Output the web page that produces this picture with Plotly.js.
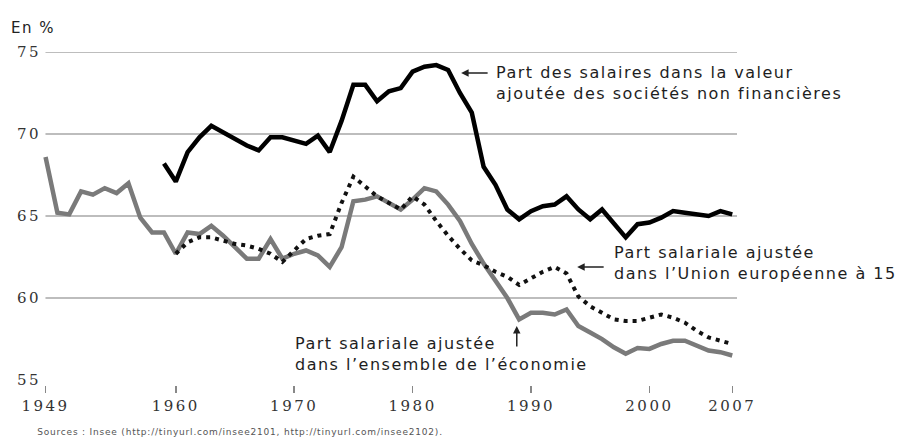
<!DOCTYPE html>
<html>
<head>
<meta charset="utf-8">
<script src="https://cdn.plot.ly/plotly-3.0.1.min.js"></script>
<style>
html,body{margin:0;padding:0;background:#fff;}
#chart{width:907px;height:438px;}
#chart g.annotation text{letter-spacing:1.5px;}
#chart g.annotation[data-index="7"] text{letter-spacing:0.8px;}
#chart .xtick text, #chart .ytick text{letter-spacing:2.5px;}
</style>
</head>
<body>
<div id="chart"></div>
<script>
// Years
var yearsEconomie = [];
for (var y = 1949; y <= 2007; y++) yearsEconomie.push(y);
var yearsUE15 = [];
for (var y2 = 1960; y2 <= 2007; y2++) yearsUE15.push(y2);
var yearsSNF = [];
for (var y3 = 1959; y3 <= 2007; y3++) yearsSNF.push(y3);

// Part salariale ajustée dans l'ensemble de l'économie (1949-2007)
var partEconomie = [
  68.6, 65.2, 65.1, 66.5, 66.3, 66.7, 66.4, 67.0, 64.9, 64.0,
  64.0, 62.7, 64.0, 63.9, 64.4, 63.8, 63.1, 62.4, 62.4, 63.6,
  62.4, 62.7, 62.9, 62.6, 61.9, 63.1, 65.9, 66.0, 66.2, 65.8,
  65.4, 66.0, 66.7, 66.5, 65.7, 64.7, 63.3, 62.1, 61.0, 60.0,
  58.7, 59.1, 59.1, 59.0, 59.3, 58.3, 57.9, 57.5, 57.0, 56.6,
  56.95, 56.9, 57.2, 57.4, 57.4, 57.1, 56.8, 56.7, 56.5
];

// Part salariale ajustée dans l'Union européenne à 15 (1960-2007)
var partUE15 = [
  62.7, 63.4, 63.7, 63.7, 63.5, 63.3, 63.2, 63.0, 62.7, 62.2,
  62.9, 63.6, 63.8, 63.9, 65.8, 67.4, 66.8, 66.2, 65.8, 65.4,
  66.2, 65.7, 64.7, 63.8, 63.0, 62.3, 62.0, 61.6, 61.3, 60.8,
  61.2, 61.6, 61.9, 61.5, 60.1, 59.5, 59.1, 58.7, 58.6, 58.6,
  58.8, 59.0, 58.8, 58.5, 58.0, 57.6, 57.4, 57.2
];

// Part des salaires dans la valeur ajoutée des sociétés non financières (1959-2007)
var partSNF = [
  68.2, 67.1, 68.9, 69.8, 70.5, 70.1, 69.7, 69.3, 69.0, 69.8,
  69.8, 69.6, 69.4, 69.9, 68.9, 70.8, 73.0, 73.0, 72.0, 72.6,
  72.8, 73.8, 74.1, 74.2, 73.9, 72.5, 71.3, 68.0, 66.9, 65.4,
  64.8, 65.3, 65.6, 65.7, 66.2, 65.4, 64.8, 65.4, 64.6, 63.7,
  64.5, 64.6, 64.9, 65.3, 65.2, 65.1, 65.0, 65.3, 65.1
];

var xTickVals = [1949, 1960, 1970, 1980, 1990, 2000, 2007];
var xTickText = ['1949', '1960', '1970', '1980', '1990', '2000', '2007'];
var yTickVals = [55, 60, 65, 70, 75];
var yTickText = ['55', '60', '65', '70', '75'];
var gridValues = [60, 65, 70, 75];

var labelSNF = 'Part des salaires dans la valeur<br>ajoutée des sociétés non financières';
var labelUE15 = 'Part salariale ajustée<br>dans l\u2019Union européenne à 15';
var labelEconomie = 'Part salariale ajustée<br>dans l\u2019ensemble de l\u2019économie';
var unitLabel = 'En %';
var sourceLabel = 'Sources : Insee (http://tinyurl.com/insee2101, http://tinyurl.com/insee2102).';

var traces = [
  {x: yearsEconomie, y: partEconomie, type: 'scatter', mode: 'lines',
   line: {color: '#7a7a7a', width: 4.5}, hoverinfo: 'skip'},
  {x: yearsUE15, y: partUE15, type: 'scatter', mode: 'lines',
   line: {color: '#111', width: 4, dash: '4px,5px'}, hoverinfo: 'skip'},
  {x: yearsSNF, y: partSNF, type: 'scatter', mode: 'lines',
   line: {color: '#000', width: 4.5}, hoverinfo: 'skip'}
];

var shapes = gridValues.map(function (v) {
  return {type: 'line', xref: 'paper', yref: 'y', x0: 0.005, x1: 1, y0: v, y1: v,
          line: {color: '#bdbdbd', width: 2}, layer: 'below'};
});

var txtFont = {family: 'DejaVu Sans, sans-serif', size: 16, color: '#1e1e1e'};

var annotations = [
  {xref: 'x', yref: 'y', x: 1986.9, y: 73.14, text: labelSNF, showarrow: false,
   xanchor: 'left', yanchor: 'middle', align: 'left', font: txtFont},
  {xref: 'x', yref: 'y', x: 1984.1, y: 73.72, ax: 28, ay: 0, text: '', showarrow: true,
   arrowhead: 2, arrowsize: 1, arrowwidth: 1.5, arrowcolor: '#222'},
  {xref: 'x', yref: 'y', x: 1996.8, y: 62.16, text: labelUE15, showarrow: false,
   xanchor: 'left', yanchor: 'middle', align: 'left', font: txtFont},
  {xref: 'x', yref: 'y', x: 1993.9, y: 61.89, ax: 28, ay: 0, text: '', showarrow: true,
   arrowhead: 2, arrowsize: 1, arrowwidth: 1.5, arrowcolor: '#222'},
  {xref: 'x', yref: 'y', x: 1969.9, y: 56.6, text: labelEconomie, showarrow: false,
   xanchor: 'left', yanchor: 'middle', align: 'left', font: txtFont},
  {xref: 'x', yref: 'y', x: 1988.8, y: 58.29, ax: 0, ay: 22, text: '', showarrow: true,
   arrowhead: 2, arrowsize: 1, arrowwidth: 1.5, arrowcolor: '#222'},
  {xref: 'paper', yref: 'paper', x: -0.043, y: 1.072, text: unitLabel, showarrow: false,
   xanchor: 'left', yanchor: 'middle', font: {family: 'DejaVu Sans, sans-serif', size: 15, color: '#222'}},
  {xref: 'paper', yref: 'paper', x: 0.285, y: -0.141, text: sourceLabel, showarrow: false,
   xanchor: 'center', yanchor: 'middle', font: {family: 'DejaVu Sans, sans-serif', size: 9, color: '#555'}}
];

var layout = {
  width: 907, height: 438,
  margin: {l: 42, r: 170, t: 52, b: 53, pad: 0},
  paper_bgcolor: '#fff', plot_bgcolor: '#fff',
  showlegend: false,
  xaxis: {range: [1948.7, 2007.4], tickvals: xTickVals, ticktext: xTickText,
          showgrid: false, zeroline: false, showline: false,
          ticks: 'outside', ticklen: 7, tickwidth: 1.5, tickcolor: '#888',
          tickfont: {family: 'DejaVu Serif, serif', size: 15, color: '#333'}},
  yaxis: {range: [54.7, 75], tickvals: yTickVals, ticktext: yTickText,
          showgrid: false, zeroline: false, showline: false, ticks: '',
          tickfont: {family: 'DejaVu Serif, serif', size: 15, color: '#333'}},
  shapes: shapes,
  annotations: annotations
};

Plotly.newPlot('chart', traces, layout, {staticPlot: true, displayModeBar: false});
</script>
</body>
</html>
